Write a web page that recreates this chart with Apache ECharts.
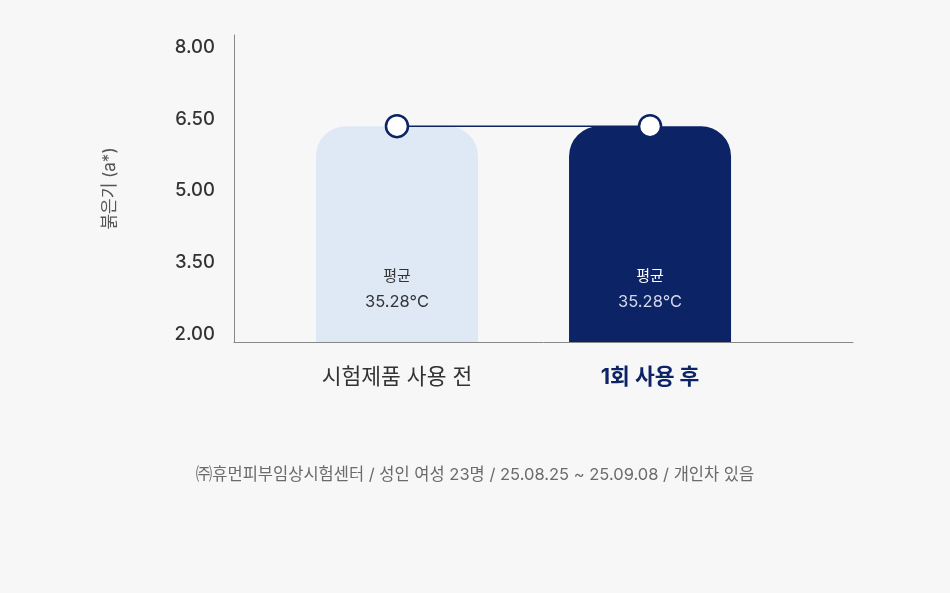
<!DOCTYPE html>
<html>
<head>
<meta charset="utf-8">
<script src="https://cdn.jsdelivr.net/npm/echarts@6/dist/echarts.min.js"></script>
<style>
html,body{margin:0;padding:0;background:#f7f7f7;}
#chart{width:950px;height:593px;}
</style>
</head>
<body>
<div id="chart"></div>
<script>
const categories = ['시험제품 사용 전', '1회 사용 후'];
const categoryPositions = [1, 2];
const values = [6.35, 6.35];
const barLabelTitle = '평균';
const barLabelValues = ['35.28°C', '35.28°C'];
const yTickValues = [2.0, 3.5, 5.0, 6.5, 8.0];
const yAxisName = '붉은기 (a*)';
const footnote = '㈜휴먼피부임상시험센터 / 성인 여성 23명 / 25.08.25 ~ 25.09.08 / 개인차 있음';

const NAVY = '#0c2466';
const LIGHT = '#dfe9f6';
const FONT = "Inter, 'Noto Sans CJK KR', sans-serif";

const chart = echarts.init(document.getElementById('chart'));

const barData = categoryPositions.map((x, i) => ({
  value: [x, values[i]],
  itemStyle: { color: i === 0 ? LIGHT : NAVY },
  label: {
    formatter: '{a|' + barLabelTitle + '}\n{b|' + barLabelValues[i] + '}',
    rich: {
      a: { fontSize: 15, lineHeight: 26, color: i === 0 ? '#333' : '#ffffff', fontFamily: FONT },
      b: { fontSize: 16.5, lineHeight: 26, color: i === 0 ? '#333' : '#d4d8ea', fontFamily: FONT }
    }
  }
}));

chart.setOption({
  backgroundColor: '#f7f7f7',
  textStyle: { fontFamily: FONT },
  title: {
    text: footnote,
    left: 'center',
    top: 462,
    textStyle: { fontSize: 16.5, fontWeight: 'normal', color: '#6b6b6b', fontFamily: FONT }
  },
  grid: { left: 234, right: 97, top: 35, bottom: 251, containLabel: false },
  xAxis: {
    type: 'value',
    min: 0.356,
    max: 2.802,
    splitLine: { show: false },
    axisTick: { show: false },
    axisLine: { show: true, lineStyle: { color: '#888', width: 1 } },
    axisLabel: {
      customValues: categoryPositions,
      margin: 25,
      formatter: function (v) {
        const idx = categoryPositions.indexOf(v);
        if (idx < 0) return '';
        return idx === 0 ? '{n|' + categories[idx] + '}' : '{h|' + categories[idx] + '}';
      },
      rich: {
        n: { fontSize: 21.5, color: '#333', fontFamily: FONT },
        h: { fontSize: 21.5, color: NAVY, fontWeight: 'bold', fontFamily: FONT }
      }
    }
  },
  yAxis: {
    type: 'value',
    min: 1.85,
    max: 8.25,
    name: yAxisName,
    nameLocation: 'middle',
    nameGap: 116,
    nameTextStyle: { fontSize: 17, color: '#555', fontFamily: FONT },
    splitLine: { show: false },
    axisTick: { show: false },
    axisLine: { show: true, lineStyle: { color: '#888', width: 1 } },
    axisLabel: {
      customValues: yTickValues,
      margin: 19,
      fontSize: 18.5,
      fontWeight: 500,
      color: '#333',
      fontFamily: FONT,
      formatter: v => v.toFixed(2)
    }
  },
  series: [
    {
      type: 'bar',
      barWidth: 162,
      data: barData,
      itemStyle: { borderRadius: [30, 30, 0, 0] },
      label: { show: true, position: 'insideBottom', distance: 27 },
      z: 2
    },
    {
      type: 'line',
      data: categoryPositions.map((x, i) => [x, values[i]]),
      symbol: 'circle',
      symbolSize: 22,
      lineStyle: { color: NAVY, width: 1.5 },
      itemStyle: { color: '#ffffff', borderColor: NAVY, borderWidth: 2.5 },
      z: 5,
      animation: false
    }
  ],
  animation: false
});
</script>
</body>
</html>
